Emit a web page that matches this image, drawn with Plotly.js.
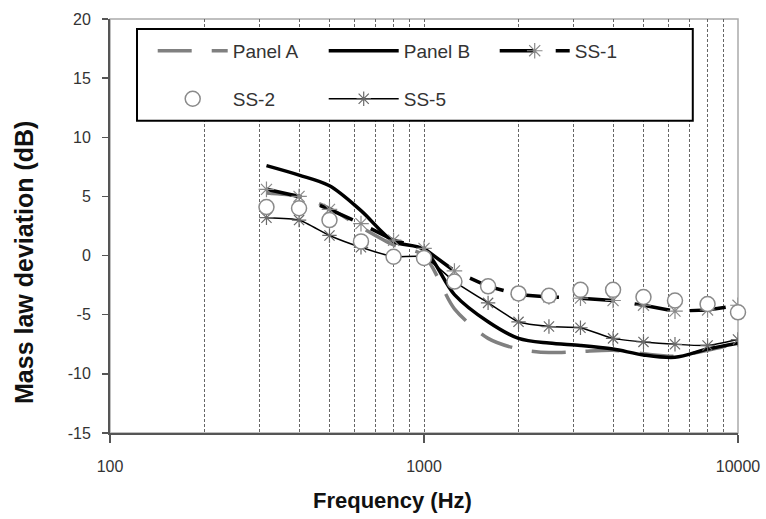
<!DOCTYPE html>
<html>
<head>
<meta charset="utf-8">
<script src="https://cdn.plot.ly/plotly-3.0.1.min.js"></script>
<style>html,body{margin:0;padding:0;background:#fff;}#chart{width:766px;height:519px;}</style>
</head>
<body>
<div id="chart"></div>
<script>
// Data
const freq = [315, 400, 500, 630, 800, 1000, 1250, 1600, 2000, 2500, 3150, 4000, 5000, 6300, 8000, 10000];
const panelA = [5.3, 5.0, 4.0, 2.4, 0.9, 0.0, -4.5, -7.0, -7.9, -8.2, -8.1, -8.0, -8.3, -8.5, -8.0, -7.4];
const panelB = [7.6, 6.8, 5.9, 3.8, 1.2, 0.5, -3.3, -5.6, -7.0, -7.4, -7.6, -7.9, -8.4, -8.6, -7.9, -7.4];
const ss1 = [5.6, 5.0, 3.9, 2.7, 1.3, 0.6, -1.3, -2.6, -3.3, -3.5, -3.6, -3.8, -4.2, -4.7, -4.6, -4.2];
const ss2 = [4.1, 4.0, 3.0, 1.2, -0.1, -0.2, -2.2, -2.6, -3.2, -3.4, -2.9, -2.9, -3.5, -3.8, -4.1, -4.8];
const ss5 = [3.2, 3.0, 1.7, 0.7, -0.1, -0.1, -2.2, -4.0, -5.6, -6.0, -6.1, -7.0, -7.3, -7.5, -7.6, -7.1];
const seriesNames = ['Panel A', 'Panel B', 'SS-1', 'SS-2', 'SS-5'];
const xTickVals = [100, 1000, 10000];
const xTickText = ['100', '1000', '10000'];
const xMinorVals = [200, 300, 400, 500, 600, 700, 800, 900, 2000, 3000, 4000, 5000, 6000, 7000, 8000, 9000];
const yTickVals = [-15, -10, -5, 0, 5, 10, 15, 20];
const yTickText = ['-15', '-10', '-5', '0', '5', '10', '15', '20'];
const xTitle = 'Frequency (Hz)';
const yTitle = 'Mass law deviation (dB)';

const FONT = '"Liberation Sans", Arial, sans-serif';

const traces = [
  {x: freq, y: panelA, name: seriesNames[0], mode: 'lines', legend: 'legend',
   line: {color: '#808080', width: 3.5, dash: '34px,20px', shape: 'spline', smoothing: 0.8}},
  {x: freq, y: panelB, name: seriesNames[1], mode: 'lines', legend: 'legend',
   line: {color: '#000000', width: 3.5, shape: 'spline', smoothing: 0.9}},
  {x: freq, y: ss1, name: seriesNames[2], mode: 'lines+markers', legend: 'legend',
   line: {color: '#000000', width: 3.5, dash: '36px,20px'},
   marker: {symbol: 'asterisk-open', size: 13, color: '#8a8a8a', line: {color: '#8a8a8a', width: 1.2}}},
  {x: freq, y: ss5, name: seriesNames[4], mode: 'lines+markers', legend: 'legend2', legendrank: 2,
   line: {color: '#000000', width: 1.5, shape: 'spline', smoothing: 0.5},
   marker: {symbol: 'asterisk-open', size: 12, color: '#6a6a6a', line: {color: '#6a6a6a', width: 1.2}}},
  {x: freq, y: ss2, name: seriesNames[3], mode: 'markers', legend: 'legend2', legendrank: 1, cliponaxis: false,
   marker: {symbol: 'circle', size: 15, color: '#ffffff', line: {color: '#8a8a8a', width: 1.5}}}
];

const legendCommon = {
  orientation: 'h', xanchor: 'left', yanchor: 'middle',
  bgcolor: 'rgba(0,0,0,0)', borderwidth: 0,
  itemwidth: 70, entrywidth: 86, entrywidthmode: 'pixels',
  font: {family: FONT, size: 19, color: '#333'}, traceorder: 'normal'
};

const layout = {
  width: 766, height: 519,
  margin: {l: 110, r: 28, t: 19, b: 86},
  paper_bgcolor: '#ffffff', plot_bgcolor: '#ffffff',
  font: {family: FONT, size: 16, color: '#333333'},
  showlegend: true,
  xaxis: {
    type: 'log', range: [2, 4],
    tickmode: 'array', tickvals: xTickVals, ticktext: xTickText,
    ticks: 'outside', ticklen: 8, tickwidth: 1.5, tickcolor: '#555',
    ticklabelstandoff: 10,
    showline: true, linecolor: '#555', linewidth: 2,
    showgrid: true, gridcolor: '#666', gridwidth: 1, griddash: '3px,2px',
    minor: {tickvals: xMinorVals, showgrid: true, gridcolor: '#666', gridwidth: 1, griddash: '3px,2px', ticks: ''},
    zeroline: false,
    tickfont: {family: FONT, size: 16, color: '#333'}
  },
  yaxis: {
    range: [-15, 20], tickmode: 'array', tickvals: yTickVals, ticktext: yTickText,
    ticks: 'outside', ticklen: 6, tickwidth: 1.5, tickcolor: '#555',
    ticklabelstandoff: 8,
    showline: true, linecolor: '#555', linewidth: 2,
    showgrid: false, zeroline: false,
    tickfont: {family: FONT, size: 16, color: '#333'}
  },
  annotations: [
    {text: '<b>' + xTitle + '</b>', xref: 'paper', yref: 'paper', x: 0.4506, y: -0.162,
     xanchor: 'center', yanchor: 'middle', showarrow: false,
     font: {family: FONT, size: 22, color: '#111'}},
    {text: '<b>' + yTitle + '</b>', xref: 'paper', yref: 'paper', x: -0.137, y: 0.413,
     xanchor: 'center', yanchor: 'middle', showarrow: false, textangle: -90,
     font: {family: FONT, size: 25, color: '#111'}}
  ],
  shapes: [
    {type: 'rect', xref: 'paper', yref: 'paper', x0: 0, x1: 1, y0: 0, y1: 1,
     line: {color: '#aaaaaa', width: 1.5}, fillcolor: 'rgba(0,0,0,0)', layer: 'below'},
    {type: 'rect', xref: 'paper', yref: 'paper', x0: 0.043, x1: 0.928, y0: 0.754, y1: 0.976,
     line: {color: '#000000', width: 2}, fillcolor: '#ffffff', layer: 'above'}
  ],
  legend: Object.assign({}, legendCommon, {x: 0.068, y: 0.923}),
  legend2: Object.assign({}, legendCommon, {x: 0.068, y: 0.807})
};

Plotly.newPlot('chart', traces, layout, {displayModeBar: false, staticPlot: true});
</script>
</body>
</html>
